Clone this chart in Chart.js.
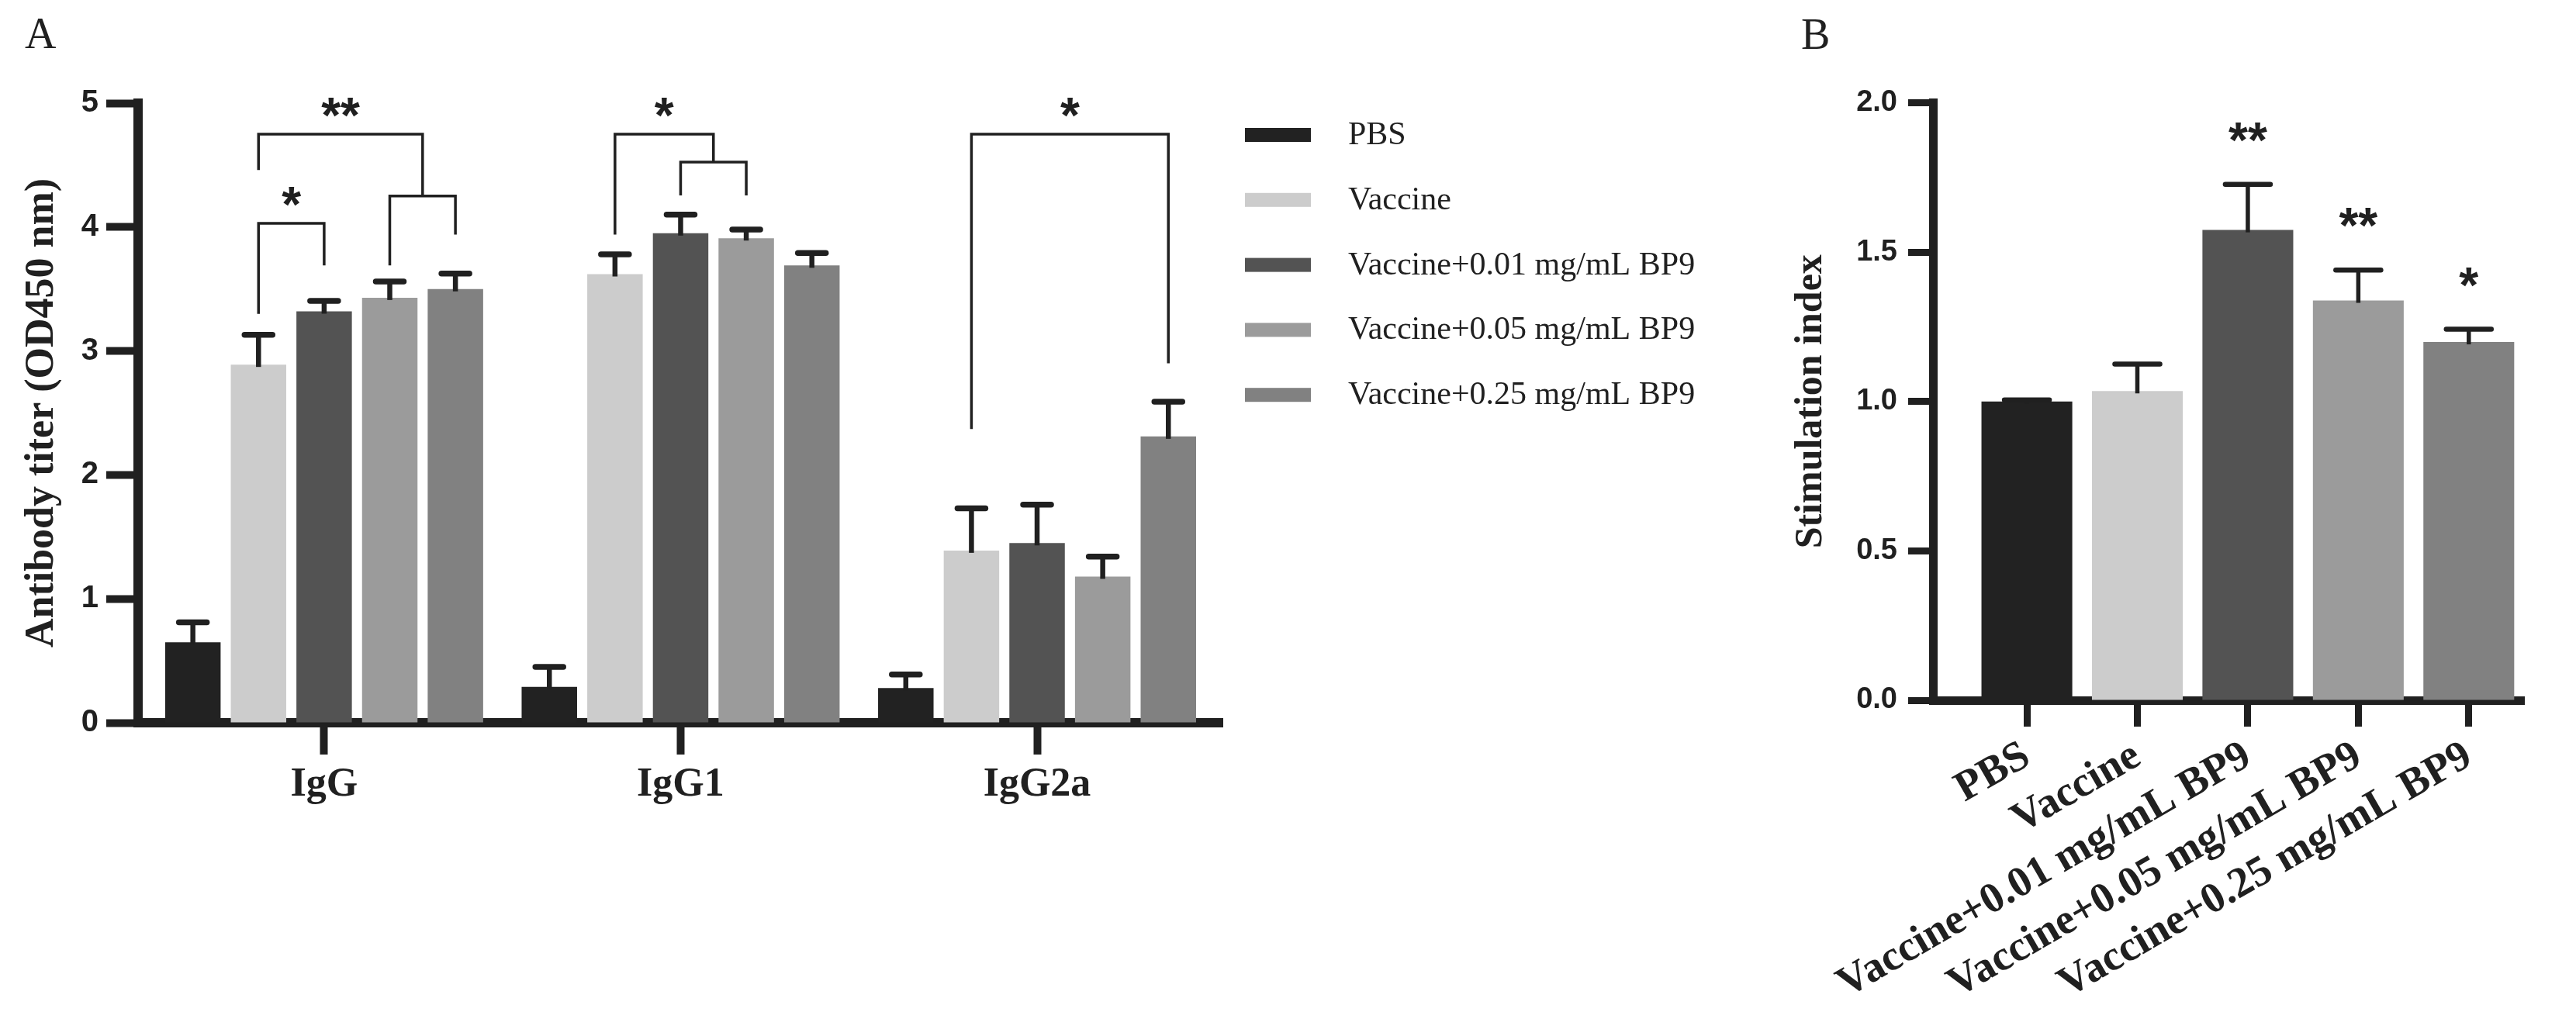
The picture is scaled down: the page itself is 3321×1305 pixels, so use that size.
<!DOCTYPE html>
<html>
<head>
<meta charset="utf-8">
<script src="https://cdn.jsdelivr.net/npm/chart.js@4.4.0/dist/chart.umd.min.js"></script>
<style>
html, body { margin: 0; padding: 0; background: #ffffff; }
#wrap { position: relative; width: 3321px; height: 1305px; overflow: hidden; background: #ffffff; }
#cA { position: absolute; left: 0; top: 0; }
#cB { position: absolute; left: 2250px; top: 0; }
</style>
</head>
<body>
<div id="wrap">
  <canvas id="cA" width="2250" height="1305"></canvas>
  <canvas id="cB" width="1071" height="1305"></canvas>
</div>
<script>
// ---------------- data ----------------
const groups = ['PBS', 'Vaccine', 'Vaccine+0.01 mg/mL BP9', 'Vaccine+0.05 mg/mL BP9', 'Vaccine+0.25 mg/mL BP9'];
const isotypes = ['IgG', 'IgG1', 'IgG2a'];

// Panel A: antibody titer (OD450 nm), mean per isotype [IgG, IgG1, IgG2a]
const titerPBS     = [0.65, 0.29, 0.28];
const titerVaccine = [2.89, 3.62, 1.39];
const titerBP9_001 = [3.32, 3.95, 1.45];
const titerBP9_005 = [3.43, 3.91, 1.18];
const titerBP9_025 = [3.50, 3.69, 2.31];
// upper error (SD)
const sdPBS     = [0.16, 0.16, 0.11];
const sdVaccine = [0.24, 0.16, 0.34];
const sdBP9_001 = [0.085, 0.15, 0.31];
const sdBP9_005 = [0.13, 0.07, 0.16];
const sdBP9_025 = [0.125, 0.10, 0.28];
const yTicksA = [0, 1, 2, 3, 4, 5];

// significance brackets in panel A (series index, fractional = between two bars; heights in OD units)
const bracketsA = [
  { cat: 0, left: 1, right: 3.5, top: 4.75,  leftEnd: 4.46, rightEnd: 4.25,  label: '**' },
  { cat: 0, left: 3, right: 4,   top: 4.25,  leftEnd: 3.69, rightEnd: 3.94,  label: '' },
  { cat: 0, left: 1, right: 2,   top: 4.03,  leftEnd: 3.30, rightEnd: 3.69,  label: '*' },
  { cat: 1, left: 1, right: 2.5, top: 4.75,  leftEnd: 3.94, rightEnd: 4.525, label: '*' },
  { cat: 1, left: 2, right: 3,   top: 4.525, leftEnd: 4.255, rightEnd: 4.255, label: '' },
  { cat: 2, left: 1, right: 4,   top: 4.75,  leftEnd: 2.37, rightEnd: 2.90,  label: '*' }
];

// Panel B: stimulation index
const stimIndex = [1.00, 1.035, 1.574, 1.338, 1.199];
const stimSD    = [0.005, 0.09, 0.153, 0.102, 0.043];
const stimSig   = ['', '', '**', '**', '*'];
const yTicksB = [0, 0.5, 1.0, 1.5, 2.0];

// ---------------- styles ----------------
const SERIF = "'Liberation Serif','Times New Roman',serif";
const SANS = "'Liberation Sans',Arial,sans-serif";
const INK = '#202020';
const colors = ['#222222', '#cccccc', '#535353', '#9b9b9b', '#818181'];

const seriesA = [titerPBS, titerVaccine, titerBP9_001, titerBP9_005, titerBP9_025];
const sdA = [sdPBS, sdVaccine, sdBP9_001, sdBP9_005, sdBP9_025];

function drawStars(ctx, text, cx, cy) {
  const size = 64;
  ctx.save();
  ctx.fillStyle = INK;
  ctx.font = 'bold ' + size + 'px ' + SANS;
  ctx.textAlign = 'center';
  ctx.textBaseline = 'alphabetic';
  ctx.fillText(text, cx, cy + 0.55 * size);
  ctx.restore();
}

function makeErrorBars(getErr, capHalf, capW, stemW) {
  return {
    id: 'errorBars',
    afterDatasetsDraw(chart) {
      const ctx = chart.ctx, y = chart.scales.y;
      chart.data.datasets.forEach((ds, di) => {
        const meta = chart.getDatasetMeta(di);
        meta.data.forEach((bar, i) => {
          const mean = ds.data[i].y;
          const sd = getErr(di, i);
          const yTop = y.getPixelForValue(mean + sd);
          ctx.save();
          ctx.strokeStyle = INK;
          ctx.lineWidth = stemW;
          ctx.lineCap = 'butt';
          ctx.beginPath();
          ctx.moveTo(bar.x, bar.y + 3);
          ctx.lineTo(bar.x, yTop);
          ctx.stroke();
          ctx.lineWidth = capW;
          ctx.lineCap = 'round';
          ctx.beginPath();
          ctx.moveTo(bar.x - capHalf, yTop);
          ctx.lineTo(bar.x + capHalf, yTop);
          ctx.stroke();
          ctx.restore();
        });
      });
    }
  };
}

const bracketPluginA = {
  id: 'bracketsA',
  afterDatasetsDraw(chart) {
    const ctx = chart.ctx, y = chart.scales.y;
    const barX = (cat, s) => {
      const lo = Math.floor(s), hi = Math.ceil(s);
      const a = chart.getDatasetMeta(lo).data[cat].x;
      const b = chart.getDatasetMeta(hi).data[cat].x;
      return a + (b - a) * (s - lo);
    };
    ctx.save();
    ctx.strokeStyle = INK;
    ctx.lineWidth = 3.5;
    ctx.lineCap = 'butt';
    ctx.lineJoin = 'miter';
    bracketsA.forEach(b => {
      const xL = barX(b.cat, b.left), xR = barX(b.cat, b.right);
      const yT = y.getPixelForValue(b.top);
      ctx.beginPath();
      ctx.moveTo(xL, y.getPixelForValue(b.leftEnd));
      ctx.lineTo(xL, yT);
      ctx.lineTo(xR, yT);
      ctx.lineTo(xR, y.getPixelForValue(b.rightEnd));
      ctx.stroke();
      if (b.label) drawStars(ctx, b.label, (xL + xR) / 2, yT - 37);
    });
    ctx.restore();
  }
};

const legendPluginA = {
  id: 'legendA',
  afterDraw(chart) {
    const ctx = chart.ctx, ca = chart.chartArea;
    const x0 = ca.right + 29, y0 = ca.top + 41, step = 83.8;
    ctx.save();
    chart.data.datasets.forEach((ds, i) => {
      const yc = y0 + i * step;
      ctx.fillStyle = ds.backgroundColor;
      ctx.fillRect(x0, yc - 9, 85, 18);
      ctx.fillStyle = INK;
      ctx.font = '42px ' + SERIF;
      ctx.textAlign = 'left';
      ctx.textBaseline = 'middle';
      ctx.fillText(ds.label, x0 + 133, yc + 1);
    });
    ctx.restore();
  }
};

function makePanelLetter(letter, x, y) {
  return {
    id: 'panelLetter',
    afterDraw(chart) {
      const ctx = chart.ctx;
      ctx.save();
      ctx.fillStyle = INK;
      ctx.font = '56px ' + SERIF;
      ctx.textAlign = 'left';
      ctx.textBaseline = 'alphabetic';
      ctx.fillText(letter, x, y);
      ctx.restore();
    }
  };
}

const starPluginB = {
  id: 'starsB',
  afterDatasetsDraw(chart) {
    const y = chart.scales.y;
    const meta = chart.getDatasetMeta(0);
    meta.data.forEach((bar, i) => {
      if (!stimSig[i]) return;
      const yTop = y.getPixelForValue(stimIndex[i] + stimSD[i]);
      drawStars(chart.ctx, stimSig[i], bar.x, yTop - 70);
    });
  }
};

// ---------------- Panel A ----------------
new Chart(document.getElementById('cA'), {
  type: 'bar',
  data: {
    datasets: groups.map((g, i) => ({
      label: g,
      data: seriesA[i].map((v, j) => ({ x: j, y: v })),
      backgroundColor: colors[i],
      borderWidth: 0,
      categoryPercentage: 0.9206,
      barPercentage: 0.845
    }))
  },
  options: {
    responsive: false,
    animation: false,
    events: [],
    layout: { padding: { left: 0, top: 133, right: 674, bottom: 0 } },
    plugins: { legend: { display: false }, tooltip: { enabled: false }, title: { display: false } },
    scales: {
      x: {
        type: 'linear',
        min: -0.522,
        max: 2.52,
        offset: false,
        z: 1,
        afterBuildTicks: s => { s.ticks = isotypes.map((_, i) => ({ value: i })); },
        afterFit: s => { s.height = 1305 - 932; },
        grid: { display: true, drawOnChartArea: false, offset: false, drawTicks: true, tickLength: 41, tickWidth: 10, tickColor: INK },
        border: { display: true, width: 12, color: INK },
        ticks: {
          callback: v => isotypes[v],
          autoSkip: false, minRotation: 0, maxRotation: 0,
          font: { family: SERIF, weight: 'bold', size: 52 },
          color: INK,
          padding: 8
        }
      },
      y: {
        min: 0,
        max: 5,
        afterBuildTicks: s => { s.ticks = yTicksA.map(v => ({ value: v })); },
        afterFit: s => { s.width = 178; },
        grid: { display: true, drawOnChartArea: false, drawTicks: true, tickLength: 41, tickWidth: 10, tickColor: INK },
        border: { display: true, width: 12, color: INK },
        ticks: {
          font: { family: SANS, weight: 'bold', size: 40 },
          color: INK,
          padding: 10
        },
        title: {
          display: true,
          text: 'Antibody titer (OD450 nm)',
          font: { family: SERIF, weight: 'bold', size: 52 },
          color: INK,
          padding: { top: 23, bottom: 0 }
        }
      }
    }
  },
  plugins: [
    makeErrorBars((di, i) => sdA[di][i], 18, 7.5, 6.5),
    bracketPluginA,
    legendPluginA,
    makePanelLetter('A', 32, 62)
  ]
});

// ---------------- Panel B ----------------
new Chart(document.getElementById('cB'), {
  type: 'bar',
  data: {
    datasets: [{
      label: 'Stimulation index',
      data: stimIndex.map((v, i) => ({ x: i, y: v })),
      backgroundColor: colors,
      borderWidth: 0,
      categoryPercentage: 1,
      barPercentage: 0.822
    }]
  },
  options: {
    responsive: false,
    animation: false,
    events: [],
    layout: { padding: { left: 0, top: 132.5, right: 1071 - 1004, bottom: 0 } },
    plugins: { legend: { display: false }, tooltip: { enabled: false }, title: { display: false } },
    scales: {
      x: {
        type: 'linear',
        min: -0.85,
        max: 4.5,
        offset: false,
        z: 1,
        afterBuildTicks: s => { s.ticks = groups.map((_, i) => ({ value: i })); },
        afterFit: s => { s.height = 1305 - 903; },
        grid: { display: true, drawOnChartArea: false, offset: false, drawTicks: true, tickLength: 34, tickWidth: 9, tickColor: INK },
        border: { display: true, width: 11, color: INK },
        ticks: {
          callback: v => groups[v],
          autoSkip: false, minRotation: 30, maxRotation: 30,
          font: { family: SERIF, weight: 'bold', size: 55 },
          color: INK,
          padding: 6
        }
      },
      y: {
        min: 0,
        max: 2,
        afterBuildTicks: s => { s.ticks = yTicksB.map(v => ({ value: v })); },
        afterFit: s => { s.width = 242; },
        grid: { display: true, drawOnChartArea: false, drawTicks: true, tickLength: 32, tickWidth: 9, tickColor: INK },
        border: { display: true, width: 11, color: INK },
        ticks: {
          callback: v => Number(v).toFixed(1),
          font: { family: SANS, weight: 'bold', size: 38 },
          color: INK,
          padding: 14
        },
        title: {
          display: true,
          text: 'Stimulation index',
          font: { family: SERIF, weight: 'bold', size: 50 },
          color: INK,
          padding: { top: 55, bottom: 0 }
        }
      }
    }
  },
  plugins: [
    makeErrorBars((di, i) => stimSD[i], 29, 6.5, 5.5),
    starPluginB,
    makePanelLetter('B', 72, 63)
  ]
});
</script>
</body>
</html>
